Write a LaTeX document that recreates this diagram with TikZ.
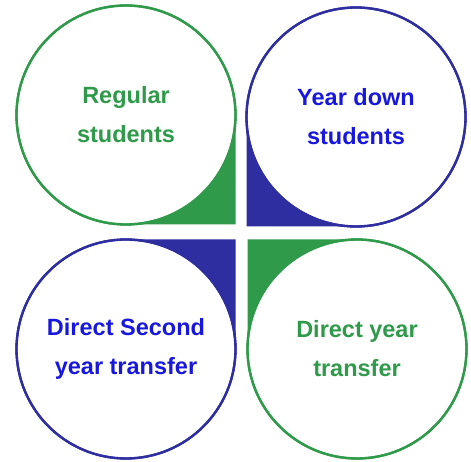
\documentclass[tikz,border=0pt]{standalone}
\usepackage{fontspec}
\setmainfont{Liberation Sans}
\definecolor{cgreen}{HTML}{2F9A4A}
\definecolor{cblue}{HTML}{2E2EA0}
\definecolor{tblue}{HTML}{1717DD}
\definecolor{tgreen}{HTML}{2F9A4A}
\begin{document}
\begin{tikzpicture}[x=1pt,y=1pt,
  bubble/.style={circle, minimum size=219pt, inner sep=0pt, outer sep=0pt, line width=2.3pt, fill=white, align=center,
    font=\bfseries\fontsize{23.5}{39}\selectfont}]
\useasboundingbox (0,0) rectangle (471,462);
% circle centres (image coords y flipped)
\node[bubble, draw=cgreen, text=tgreen] (tl) at (126,347) {Regular\\students};
\node[bubble, draw=cblue, text=tblue] (tr) at (356,345) {Year down\\students};
\node[bubble, draw=cblue, text=tblue] (bl) at (126,113) {Direct Second\\year transfer};
\node[bubble, draw=cgreen, text=tgreen] (br) at (357,113) {Direct year\\transfer};
% corner fills
\fill[cgreen] (tl.east) -- (tl.east |- tl.south) -- (tl.south) arc[start angle=-90, end angle=0, radius=109.5pt] -- cycle;
\fill[cblue] (tr.west) -- (tr.west |- tr.south) -- (tr.south) arc[start angle=270, end angle=180, radius=109.5pt] -- cycle;
\fill[cblue] (bl.east) -- (bl.east |- bl.north) -- (bl.north) arc[start angle=90, end angle=0, radius=109.5pt] -- cycle;
\fill[cgreen] (br.west) -- (br.west |- br.north) -- (br.north) arc[start angle=90, end angle=180, radius=109.5pt] -- cycle;
% redraw outlines on top
\draw[cgreen, line width=2.3pt] (tl.center) circle[radius=109.5pt];
\draw[cblue, line width=2.3pt] (tr.center) circle[radius=109.5pt];
\draw[cblue, line width=2.3pt] (bl.center) circle[radius=109.5pt];
\draw[cgreen, line width=2.3pt] (br.center) circle[radius=109.5pt];
\end{tikzpicture}
\end{document}
